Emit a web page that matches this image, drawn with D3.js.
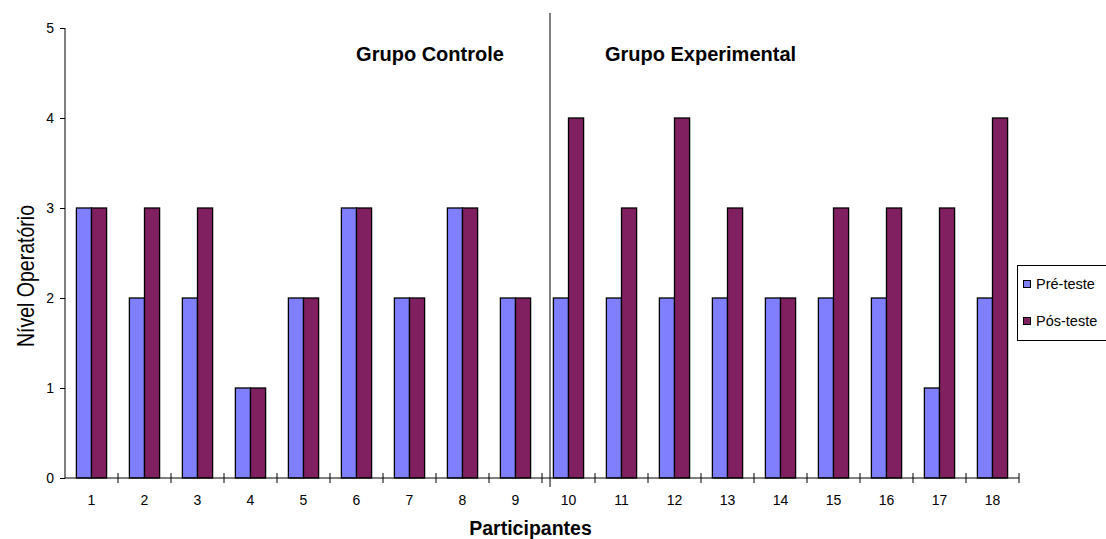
<!DOCTYPE html>
<html><head><meta charset="utf-8">
<script src="https://cdn.jsdelivr.net/npm/d3@7/dist/d3.min.js"></script>
<style>body{margin:0;background:#fff}svg{display:block}</style>
</head><body>
<svg id="c" width="1106" height="539"></svg>
<script>
const categories = ["1","2","3","4","5","6","7","8","9","10","11","12","13","14","15","16","17","18"];
const preTeste  = [3,2,2,1,2,3,2,3,2, 2,2,2,2,2,2,2,1,2];
const posTeste  = [3,3,3,1,2,3,2,3,2, 4,3,4,3,2,3,3,3,4];
const seriesNames = ["Pré-teste","Pós-teste"];
const yTicks = [0,1,2,3,4,5];
const groupLabels = ["Grupo Controle","Grupo Experimental"];
const xTitle = "Participantes";
const yTitle = "Nível Operatório";

const colors = ["#8080FF","#802060"];
const FONT = "Arial, 'Liberation Sans', sans-serif";
const svg = d3.select("#c");
const mLeft = 65, mRight = 1019, mTop = 28, mBottom = 478;

const x = d3.scaleBand().domain(categories).range([mLeft, mRight]).padding(0);
const y = d3.scaleLinear().domain([0,5]).range([mBottom, mTop]);
const pad = x.bandwidth()*0.215;
const xs = d3.scaleBand().domain([0,1]).range([pad, x.bandwidth()-pad]).padding(0);

const data = categories.map((c,i)=>({c, v:[preTeste[i], posTeste[i]]}));

// bars
const g = svg.append("g");
data.forEach(d=>{
  d.v.forEach((val,s)=>{
    g.append("rect")
      .attr("x", x(d.c)+xs(s))
      .attr("y", y(val))
      .attr("width", xs.bandwidth())
      .attr("height", y(0)-y(val))
      .attr("fill", colors[s])
      .attr("stroke","#000").attr("stroke-width",1.3);
  });
});

// y axis
const yAxis = d3.axisLeft(y).tickValues(yTicks).tickSize(5).tickPadding(6).tickFormat(d3.format("d"));
const ya = svg.append("g").attr("transform",`translate(${mLeft},0)`).call(yAxis);
ya.select(".domain").attr("stroke","#000").attr("d",`M0,${mBottom}V${mTop}`);
ya.selectAll("text").attr("font-family",FONT).attr("font-size",14).attr("fill","#000");

// x axis line
svg.append("line").attr("x1",mLeft).attr("x2",mRight).attr("y1",mBottom).attr("y2",mBottom).attr("stroke","#000");
// x ticks at band boundaries (crossing)
const boundaries = categories.map(c=>x(c)).concat([x(categories[categories.length-1])+x.bandwidth()]);
svg.append("g").selectAll("line").data(boundaries.slice(1)).join("line")
  .attr("x1",d=>d).attr("x2",d=>d).attr("y1",mBottom-5).attr("y2",mBottom+5).attr("stroke","#000");
svg.append("g").selectAll("text").data(categories).join("text")
  .attr("x",d=>x(d)+x.bandwidth()/2).attr("y",mBottom+27)
  .attr("text-anchor","middle").attr("font-family",FONT).attr("font-size",14)
  .text(d=>d);

// divider between groups
const divX = x("10") + 8;
svg.append("line").attr("x1",divX).attr("x2",divX).attr("y1",13).attr("y2",487).attr("stroke","#000");

// group labels
svg.append("text").attr("x",430).attr("y",61).attr("text-anchor","middle")
  .attr("font-family",FONT).attr("font-weight","bold").attr("font-size",20)
  .text(groupLabels[0]);
svg.append("text").attr("x",700.5).attr("y",61).attr("text-anchor","middle")
  .attr("font-family",FONT).attr("font-weight","bold").attr("font-size",20)
  .text(groupLabels[1]);

// axis titles
svg.append("text").attr("x",530.5).attr("y",535).attr("text-anchor","middle")
  .attr("font-family",FONT).attr("font-weight","bold").attr("font-size",19.5)
  .text(xTitle);
svg.append("text").attr("transform","translate(34,276) rotate(-90)").attr("text-anchor","middle")
  .attr("font-family",FONT).attr("font-size",24)
  .attr("textLength",142).attr("lengthAdjust","spacingAndGlyphs")
  .text(yTitle);

// legend
const lg = svg.append("g");
lg.append("rect").attr("x",1017.5).attr("y",265.5).attr("width",100).attr("height",75)
  .attr("fill","#fff").attr("stroke","#000");
seriesNames.forEach((n,i)=>{
  const cy = 284 + i*37;
  lg.append("rect").attr("x",1023.5).attr("y",cy-3.5).attr("width",7).attr("height",7)
    .attr("fill",colors[i]).attr("stroke","#000");
  lg.append("text").attr("x",1036).attr("y",cy+5)
    .attr("font-family",FONT).attr("font-size",14.5).text(n);
});
</script>
</body></html>
